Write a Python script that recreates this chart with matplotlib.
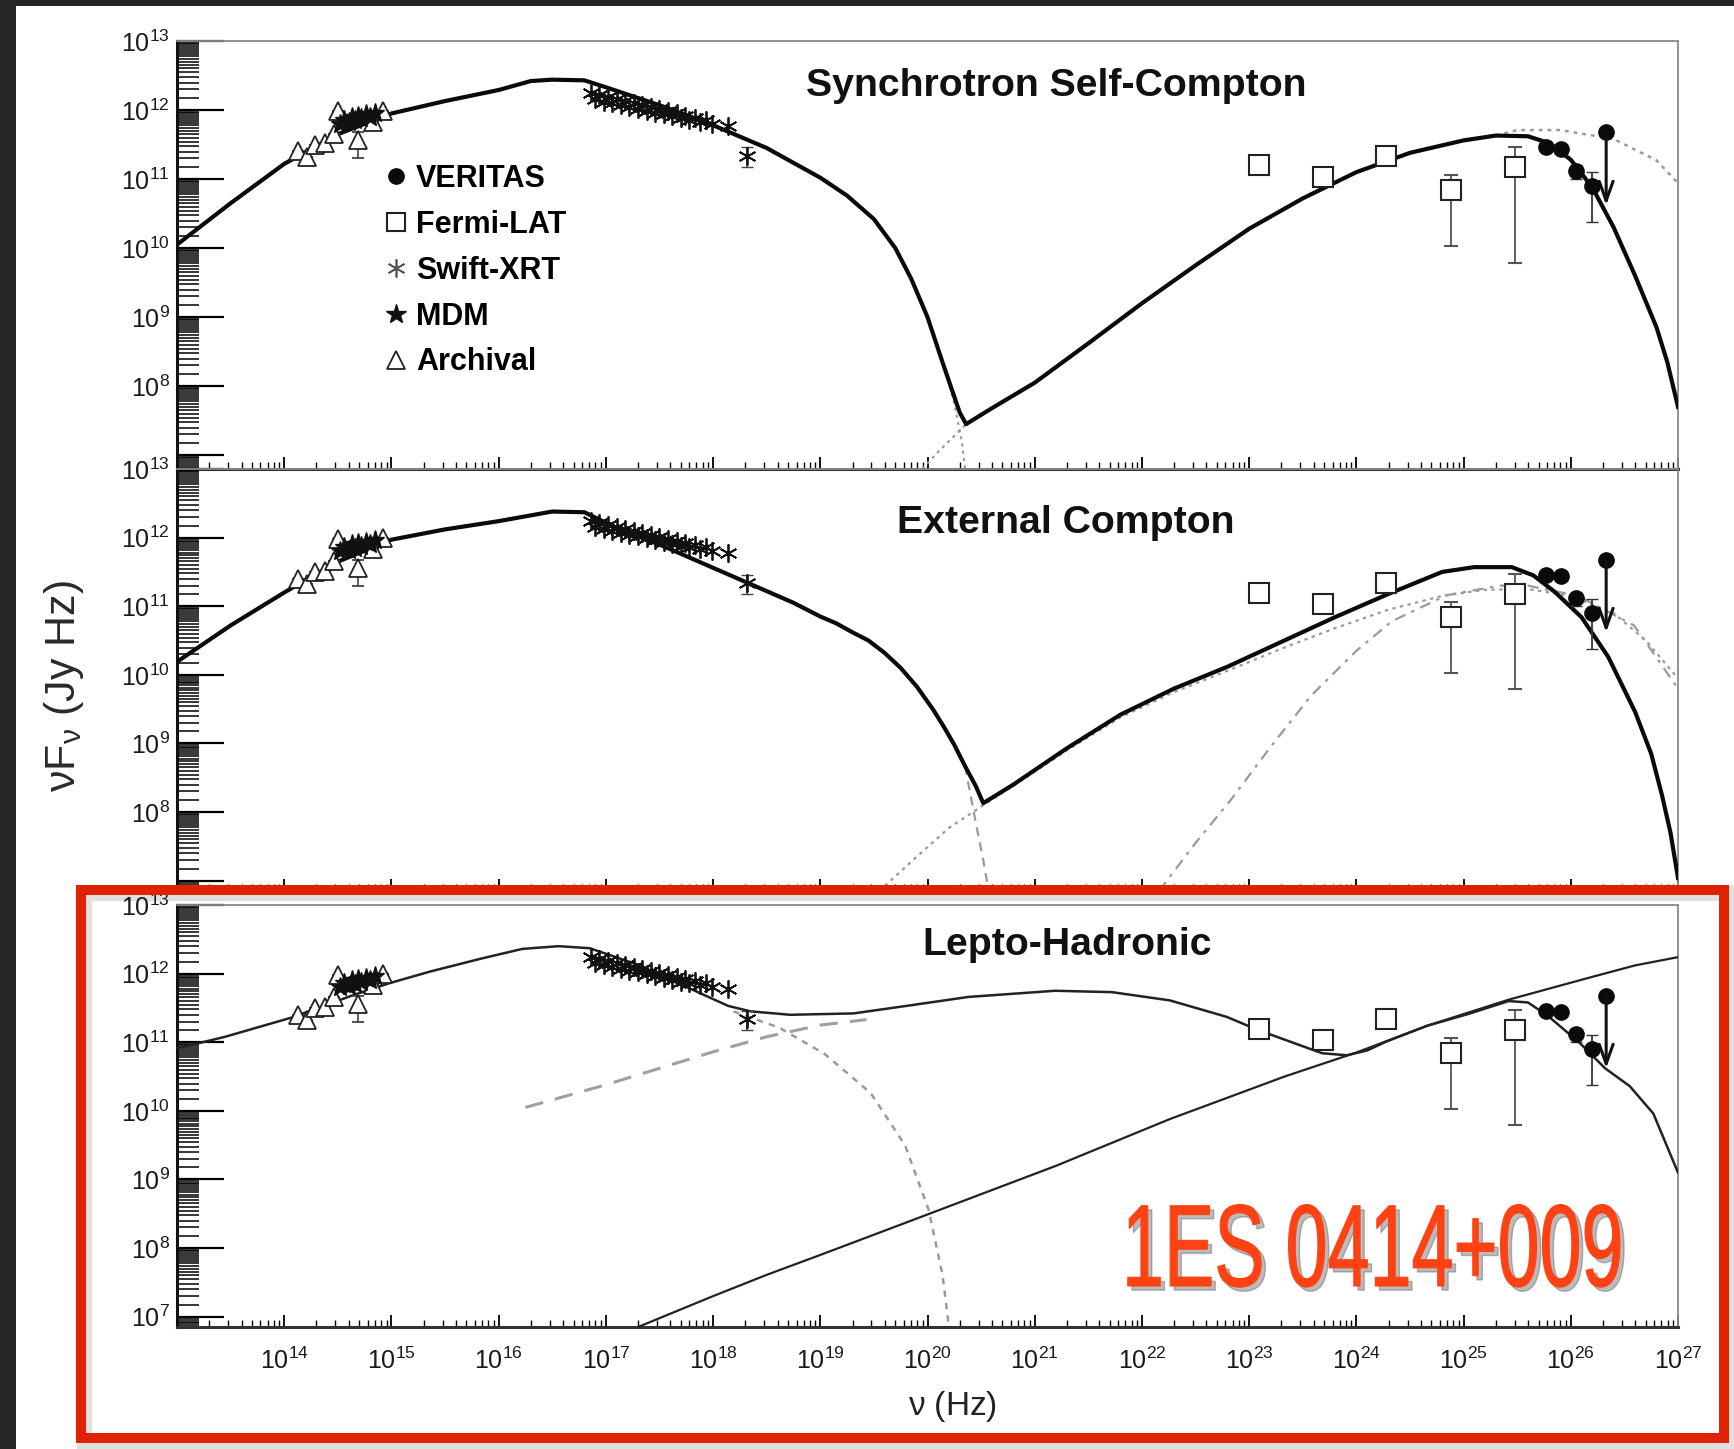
import numpy as np
import matplotlib
matplotlib.use("Agg")
import matplotlib.pyplot as plt
from matplotlib import font_manager as fm
from matplotlib import patheffects as pe
from matplotlib.colors import to_rgba
from matplotlib.patches import Rectangle
from matplotlib.lines import Line2D
from matplotlib.transforms import Affine2D
from matplotlib.ticker import LogLocator, NullFormatter, FuncFormatter

W, H = 1734, 1449
names = {f.name for f in fm.fontManager.ttflist}
SANS = "Liberation Sans" if "Liberation Sans" in names else "DejaVu Sans"
NARROW = "Liberation Sans Narrow" if "Liberation Sans Narrow" in names else SANS

plt.rcParams["font.family"] = [SANS, "DejaVu Sans"]
plt.rcParams["mathtext.fontset"] = "custom"
plt.rcParams["mathtext.rm"] = NARROW
plt.rcParams["mathtext.it"] = NARROW + ":italic"
plt.rcParams["mathtext.bf"] = NARROW + ":bold"

# ---- observations: log10(nu / Hz), log10(nuFnu / Jy Hz) ----
arch_x = [14.13, 14.21, 14.29, 14.38, 14.46, 14.50, 14.69, 14.83, 14.92]
arch_y = [11.40, 11.32, 11.50, 11.52, 11.66, 11.98, 11.56, 11.83, 11.99]
arch_lo = [11.40, 11.32, 11.50, 11.52, 11.66, 11.98, 11.30, 11.83, 11.99]
arch_hi = [11.40, 11.32, 11.50, 11.52, 11.66, 11.98, 11.68, 11.83, 11.99]

mdm_x = [14.52, 14.56, 14.60, 14.63, 14.66, 14.69, 14.72, 14.76, 14.80, 14.85]
mdm_y = [11.80, 11.86, 11.82, 11.90, 11.85, 11.92, 11.88, 11.94, 11.90, 11.96]

xrt_x = [16.86, 16.90, 16.94, 16.98, 17.02, 17.06, 17.10, 17.14, 17.18, 17.22,
         17.26, 17.30, 17.34, 17.38, 17.42, 17.46, 17.50, 17.54, 17.58, 17.62,
         17.66, 17.70, 17.74, 17.78, 17.83, 17.88, 17.93, 17.99, 18.14, 18.32]
xrt_y = [12.24, 12.16, 12.22, 12.12, 12.19, 12.10, 12.16, 12.07, 12.13, 12.04,
         12.10, 12.02, 12.07, 11.99, 12.04, 11.96, 12.01, 11.94, 11.98, 11.91,
         11.95, 11.88, 11.92, 11.86, 11.89, 11.83, 11.86, 11.80, 11.77, 11.34]
xrt_err_x = [18.32]
xrt_err_lo = [11.18]
xrt_err_hi = [11.46]

fermi_x = [23.09, 23.69, 24.28, 24.88, 25.48]
fermi_y = [11.20, 11.03, 11.34, 10.84, 11.18]
fermi_lo = [11.10, 10.95, 11.25, 10.03, 9.79]
fermi_hi = [11.28, 11.12, 11.42, 11.06, 11.47]

ver_x = [25.77, 25.91, 26.05, 26.20]
ver_y = [11.46, 11.44, 11.12, 10.90]
ver_lo = [11.40, 11.38, 11.00, 10.38]
ver_hi = [11.52, 11.50, 11.20, 11.10]
ul_x, ul_y, ul_end = 26.33, 11.68, 10.58

# ---- model curves ----
ssc_x = [13.0, 13.5, 14.0, 14.5, 15.0, 15.5, 16.0, 16.3, 16.5, 16.8, 17.0, 17.5,
         18.0, 18.5, 19.0, 19.25, 19.5, 19.7, 19.85, 20.0, 20.15, 20.3, 20.36, 20.6,
         21.0, 21.5, 22.0, 22.5, 23.0, 23.5, 24.0, 24.5, 25.0, 25.3, 25.6, 25.8, 26.0,
         26.2, 26.4, 26.6, 26.8, 26.9, 27.0]
ssc_y = [10.05, 10.65, 11.22, 11.65, 11.95, 12.13, 12.29, 12.42, 12.44, 12.43, 12.33, 12.07,
         11.78, 11.45, 11.02, 10.76, 10.42, 10.00, 9.55, 9.00, 8.30, 7.62, 7.45, 7.68,
         8.05, 8.62, 9.20, 9.75, 10.28, 10.72, 11.10, 11.38, 11.56, 11.63, 11.62, 11.52, 11.28,
         10.88, 10.30, 9.60, 8.85, 8.35, 7.70]
ssc_syn_x = [20.15, 20.25, 20.32, 20.35]
ssc_syn_y = [8.30, 7.75, 7.20, 6.80]
ssc_ic_x = [19.95, 20.10, 20.25, 20.36]
ssc_ic_y = [6.80, 7.05, 7.28, 7.45]
ssc_int_x = [25.3, 25.5, 25.9, 26.4, 26.8, 27.0]
ssc_int_y = [11.63, 11.71, 11.71, 11.58, 11.27, 10.94]

ec_x = [13.0, 13.5, 14.0, 14.5, 15.0, 15.5, 16.0, 16.5, 16.8, 17.1, 17.5, 18.0, 18.5,
        18.75, 19.0, 19.15, 19.3, 19.45, 19.6, 19.75, 19.9, 20.05, 20.15, 20.25, 20.35,
        20.45, 20.52, 20.8, 21.3, 21.8, 22.3, 22.8, 23.3, 23.8, 24.3, 24.8, 25.1, 25.45,
        25.65, 25.85, 26.1, 26.35, 26.6, 26.75, 26.85, 26.93, 27.0]
ec_y = [10.19, 10.72, 11.20, 11.65, 11.97, 12.12, 12.24, 12.38, 12.37, 12.14, 11.90, 11.56, 11.22,
        11.05, 10.85, 10.75, 10.62, 10.50, 10.32, 10.10, 9.83, 9.50, 9.25, 8.98, 8.67,
        8.38, 8.13, 8.40, 8.93, 9.42, 9.80, 10.12, 10.48, 10.84, 11.18, 11.50, 11.57, 11.57,
        11.45, 11.21, 10.84, 10.26, 9.46, 8.85, 8.25, 7.70, 7.04]
ec_syn_x = [20.35, 20.45, 20.52, 20.57]
ec_syn_y = [8.67, 7.85, 7.30, 6.85]
ec_ssc_x = [19.55, 19.9, 20.2, 20.52, 20.8, 21.3, 21.8, 22.3, 22.8, 23.3, 23.8, 24.3,
            24.8, 25.2, 25.6, 26.0, 26.4, 26.7, 27.0]
ec_ssc_y = [6.85, 7.35, 7.77, 8.10, 8.38, 8.90, 9.38, 9.75, 10.06, 10.38, 10.68, 10.95,
            11.15, 11.24, 11.25, 11.15, 10.90, 10.50, 9.95]
ec_ext_x = [22.16, 22.5, 22.82, 23.2, 23.58, 24.0, 24.33, 24.84, 25.34, 25.6, 26.07, 26.59, 27.0]
ec_ext_y = [6.85, 7.55, 8.16, 8.95, 9.70, 10.35, 10.78, 11.16, 11.30, 11.30, 11.15, 10.72, 9.80]

lh_x = [13.0, 13.45, 14.07, 14.65, 14.98, 15.36, 15.84, 16.22, 16.56, 16.85, 17.28, 17.76,
        18.14, 18.35, 18.72, 19.31, 19.85, 20.38, 21.19, 21.72, 22.26, 22.79, 23.08, 23.38,
        23.68, 23.91, 24.1, 24.28, 24.66, 25.04, 25.42, 25.6, 25.79, 26.09, 26.32, 26.55,
        26.77, 27.0]
lh_y = [10.91, 11.08, 11.36, 11.69, 11.86, 12.03, 12.22, 12.36, 12.40, 12.37, 12.14, 11.80,
        11.53, 11.45, 11.40, 11.42, 11.54, 11.66, 11.75, 11.73, 11.61, 11.37, 11.18, 11.01,
        10.84, 10.81, 10.88, 11.01, 11.24, 11.41, 11.60, 11.58, 11.38, 10.98, 10.62, 10.36,
        9.96, 9.10]
lh_had_x = [17.3, 18.0, 18.5, 19.0, 20.0, 21.2, 22.26, 23.33, 24.0, 24.66, 25.42, 26.17, 26.6, 27.0]
lh_had_y = [6.85, 7.30, 7.61, 7.90, 8.49, 9.20, 9.88, 10.50, 10.85, 11.24, 11.62, 11.94, 12.12, 12.24]
lh_mu_x = [16.25, 17.0, 17.5, 18.0, 18.5, 19.0, 19.43]
lh_mu_y = [10.05, 10.38, 10.62, 10.86, 11.08, 11.25, 11.33]
lh_syn_x = [18.19, 18.62, 19.04, 19.47, 19.79, 20.01, 20.14, 20.20]
lh_syn_y = [11.45, 11.21, 10.83, 10.26, 9.50, 8.56, 7.61, 6.85]

titles = ["Synchrotron Self-Compton", "External Compton", "Lepto-Hadronic"]


def p(v):
    return 10.0 ** np.asarray(v, dtype=float)


class Squash(pe.AbstractPathEffect):
    """draw text path squeezed horizontally about x0 (display px)"""

    def __init__(self, sx, x0, offset=(0, 0), color=None, alpha=None, stroke=0):
        super().__init__(offset)
        self.sx, self.x0, self.color, self.alpha, self.stroke = sx, x0, color, alpha, stroke

    def draw_path(self, renderer, gc, tpath, affine, rgbFace=None):
        gc0 = renderer.new_gc()
        gc0.copy_properties(gc)
        if self.color is not None:
            rgbFace = to_rgba(self.color)
        gc0.set_foreground(rgbFace)
        if self.alpha is not None:
            gc0.set_alpha(self.alpha)
            rgbFace = (rgbFace[0], rgbFace[1], rgbFace[2], self.alpha)
        gc0.set_linewidth(self.stroke)
        gc0.set_joinstyle("round")
        ox = renderer.points_to_pixels(self._offset[0])
        oy = renderer.points_to_pixels(self._offset[1])
        t = affine + Affine2D().translate(-self.x0, 0).scale(self.sx, 1).translate(self.x0 + ox, oy)
        renderer.draw_path(gc0, tpath, t, rgbFace)
        gc0.restore()


def powfmt(hide):
    def f(v, pos):
        e = int(round(np.log10(v)))
        if e in hide:
            return ""
        return r"$\mathdefault{10^{%d}}$" % e
    return FuncFormatter(f)


def setup(ax, ymin, hide, xlabels):
    ax.set_xscale("log")
    ax.set_yscale("log")
    ax.set_xlim(1e13, 1e27)
    ax.set_ylim(10 ** ymin, 1e13)
    ax.yaxis.set_major_locator(LogLocator(base=10, numticks=30))
    ax.yaxis.set_minor_locator(LogLocator(base=10, subs=np.arange(1.5, 10, 0.5), numticks=60))
    ax.yaxis.set_major_formatter(powfmt(hide))
    ax.yaxis.set_minor_formatter(NullFormatter())
    ax.xaxis.set_major_locator(LogLocator(base=10, numticks=30))
    ax.xaxis.set_minor_locator(LogLocator(base=10, subs=np.arange(2, 10), numticks=60))
    ax.xaxis.set_major_formatter(powfmt((13,)))
    ax.xaxis.set_minor_formatter(NullFormatter())
    ax.tick_params(axis="y", which="major", direction="in", length=34, width=1.6,
                   left=True, right=False, labelsize=18, pad=5, labelcolor="#1a1a1a")
    ax.tick_params(axis="y", which="minor", direction="in", length=16, width=1.1, left=True, right=False)
    ax.tick_params(axis="x", which="major", direction="in", length=9, width=1.3,
                   top=False, bottom=True, labelsize=18, pad=15, labelbottom=xlabels,
                   labelcolor="#1a1a1a")
    ax.tick_params(axis="x", which="minor", direction="in", length=5, width=1.0, top=False)
    for lab in ax.get_yticklabels() + ax.get_xticklabels():
        lab.set_family(NARROW)
    ax.spines["left"].set_linewidth(2.2)
    ax.spines["left"].set_color("#111111")
    ax.spines["bottom"].set_linewidth(2.2)
    ax.spines["bottom"].set_color("#333333")
    for s in ("top", "right"):
        ax.spines[s].set_linewidth(1.3)
        ax.spines[s].set_color("#8a8a8a")


def draw_obs(ax):
    ax.errorbar(p(arch_x), p(arch_y),
                yerr=[p(arch_y) - p(arch_lo), p(arch_hi) - p(arch_y)],
                ls="none", marker="^", ms=13, mfc="white", mec="#222222", mew=1.3,
                ecolor="#444444", elinewidth=1.2, capsize=4, zorder=4)
    ax.plot(p(mdm_x), p(mdm_y), ls="none", marker="*", ms=14, color="#111111", zorder=5)
    ax.plot(p(xrt_x), p(xrt_y), ls="none", marker=(6, 2, 0), ms=13, mew=1.3,
            color="#111111", zorder=5)
    ax.errorbar(p(xrt_err_x), p(xrt_y[-1:]),
                yerr=[p(xrt_y[-1:]) - p(xrt_err_lo), p(xrt_err_hi) - p(xrt_y[-1:])],
                ls="none", ecolor="#444444", elinewidth=1.2, capsize=4, zorder=4)
    ax.errorbar(p(fermi_x), p(fermi_y),
                yerr=[p(fermi_y) - p(fermi_lo), p(fermi_hi) - p(fermi_y)],
                ls="none", marker="s", ms=14, mfc="white", mec="#222222", mew=1.5,
                ecolor="#555555", elinewidth=1.3, capsize=5, zorder=4)
    ax.errorbar(p(ver_x), p(ver_y),
                yerr=[p(ver_y) - p(ver_lo), p(ver_hi) - p(ver_y)],
                ls="none", marker="o", ms=11, color="#0a0a0a",
                ecolor="#333333", elinewidth=1.3, capsize=4, zorder=5)
    ax.plot([10 ** ul_x], [10 ** ul_y], ls="none", marker="o", ms=11, color="#0a0a0a", zorder=5)
    ax.annotate("", xy=(10 ** ul_x, 10 ** ul_end), xytext=(10 ** ul_x, 10 ** ul_y),
                arrowprops=dict(arrowstyle="->,head_length=1.4,head_width=0.5",
                                color="#111111", lw=2.2), zorder=5)


fig = plt.figure(figsize=(W / 100, H / 100), dpi=100, facecolor="#252525")
fig.add_artist(Rectangle((16 / W, 0), 1 - 16 / W, 1 - 6 / H, transform=fig.transFigure,
                         facecolor="white", edgecolor="none", zorder=-10))

L, R = 177, 1678
boxes = [(41, 469), (469, 891), (905, 1327)]
ymins = [6.80, 6.85, 6.85]
axes = []
for i, (t, b) in enumerate(boxes):
    ax = fig.add_axes([L / W, 1 - b / H, (R - L) / W, (b - t) / H])
    ax.set_facecolor("none")
    setup(ax, ymins[i], hide=(7,) if i < 2 else (), xlabels=(i == 2))
    axes.append(ax)

a1, a2, a3 = axes
# SSC panel
a1.plot(p(ssc_x), p(ssc_y), color="#0a0a0a", lw=3.0, zorder=3, solid_joinstyle="round")
a1.plot(p(ssc_syn_x), p(ssc_syn_y), color="#9a9a9a", lw=1.5, ls=(0, (1.5, 2)), zorder=2)
a1.plot(p(ssc_ic_x), p(ssc_ic_y), color="#9a9a9a", lw=1.5, ls=(0, (1.5, 2)), zorder=2)
a1.plot(p(ssc_int_x), p(ssc_int_y), color="#9a9a9a", lw=1.8, ls=(0, (1.5, 2)), zorder=2)
# EC panel
a2.plot(p(ec_x), p(ec_y), color="#0a0a0a", lw=3.0, zorder=3, solid_joinstyle="round")
a2.plot(p(ec_syn_x), p(ec_syn_y), color="#9a9a9a", lw=1.6, ls=(0, (4, 3)), zorder=2)
a2.plot(p(ec_ssc_x), p(ec_ssc_y), color="#9a9a9a", lw=1.6, ls=(0, (1.5, 2)), zorder=2)
a2.plot(p(ec_ext_x), p(ec_ext_y), color="#9a9a9a", lw=1.6, ls=(0, (5, 3, 1.5, 3)), zorder=2)
# Lepto-hadronic panel
a3.plot(p(lh_x), p(lh_y), color="#222222", lw=1.8, zorder=3, solid_joinstyle="round")
a3.plot(p(lh_had_x), p(lh_had_y), color="#222222", lw=1.6, zorder=3)
a3.plot(p(lh_mu_x), p(lh_mu_y), color="#a0a0a0", lw=2.2, ls=(0, (6, 4)), zorder=2)
a3.plot(p(lh_syn_x), p(lh_syn_y), color="#9a9a9a", lw=1.8, ls=(0, (2.5, 2.5)), zorder=2)

for ax in axes:
    draw_obs(ax)

title_pos = [(0.586, 0.895), (0.592, 0.872), (0.593, 0.905)]
for ax, ttl, (tx, ty) in zip(axes, titles, title_pos):
    ax.text(tx, ty, ttl, transform=ax.transAxes, ha="center", va="center",
            fontsize=28.3, fontweight="bold", family=NARROW, color="#111111")

handles = [Line2D([], [], ls="none", marker="o", color="#0a0a0a", ms=11),
           Line2D([], [], ls="none", marker="s", mfc="white", mec="#222222", ms=13, mew=1.5),
           Line2D([], [], ls="none", marker=(6, 2, 0), color="#555555", ms=13, mew=1.2),
           Line2D([], [], ls="none", marker="*", color="#111111", ms=15),
           Line2D([], [], ls="none", marker="^", mfc="white", mec="#222222", ms=13, mew=1.3)]
labels = ["VERITAS", "Fermi-LAT", "Swift-XRT", "MDM", "Archival"]
a1.legend(handles, labels, loc="upper left", bbox_to_anchor=(0.138, 0.713), frameon=False,
          prop=dict(family=NARROW, weight="bold", size=22), handlelength=0.75,
          handletextpad=0.3, labelspacing=0.52, borderaxespad=0, borderpad=0)

fig.text(64 / W, 1 - 686 / H, r"$\mathregular{\nu F_{\nu}}$ (Jy Hz)", rotation=90,
         ha="center", va="center", fontsize=31, family=NARROW, color="#2a2a2a")
fig.text(952 / W, 1 - 1407 / H, r"$\mathregular{\nu}$ (Hz)", ha="center", va="center",
         fontsize=24, family=NARROW, color="#222222")

# red highlight box
bx0, by0, bx1, by1 = 81, 890, 1724, 1438
fig.add_artist(Rectangle(((bx0 + 3) / W, 1 - (by1 + 3) / H), (bx1 - bx0) / W, (by1 - by0) / H,
                         transform=fig.transFigure, fill=False, ec="black", alpha=0.12,
                         lw=11, zorder=9))
fig.add_artist(Rectangle((bx0 / W, 1 - by1 / H), (bx1 - bx0) / W, (by1 - by0) / H,
                         transform=fig.transFigure, fill=False, ec="#e02200", lw=7.2, zorder=10))

lbl = fig.text(1122 / W, 1 - 1286 / H, "1ES 0414+009", ha="left", va="baseline",
               fontsize=84, fontweight="normal", family=NARROW, color="#ff4213", zorder=11)
renderer = fig.canvas.get_renderer()
bb = lbl.get_window_extent(renderer)
sx = 501.0 / bb.width
lbl.set_path_effects([Squash(sx, bb.x0, offset=(3, -3), color="#555555", alpha=0.4, stroke=1.0),
                      Squash(sx, bb.x0, stroke=0.8)])

fig.savefig("out.png", dpi=100, facecolor=fig.get_facecolor())
